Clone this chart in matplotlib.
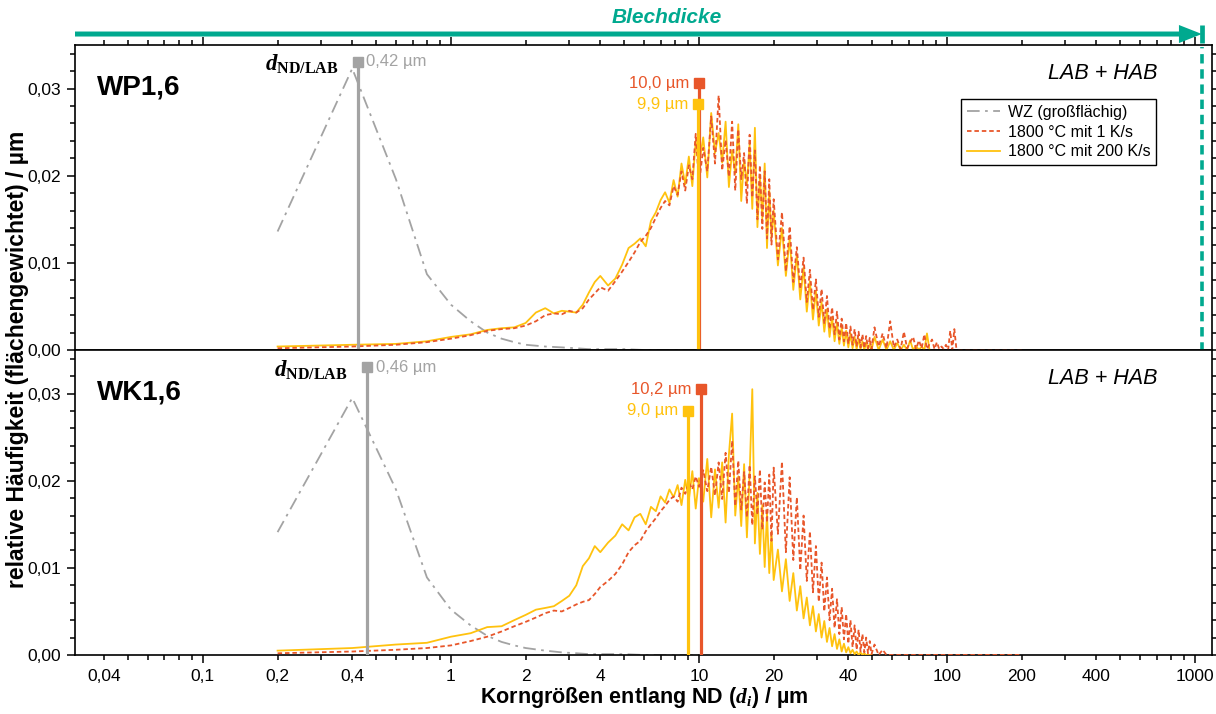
import numpy as np
import matplotlib
matplotlib.use("Agg")
import matplotlib.pyplot as plt
import matplotlib.transforms as mtransforms
from matplotlib.ticker import FixedLocator, FuncFormatter, MultipleLocator

plt.rcParams['font.family'] = ['Liberation Sans', 'DejaVu Sans']
plt.rcParams['mathtext.fontset'] = 'custom'
plt.rcParams['mathtext.it'] = 'Liberation Serif:italic:bold'
plt.rcParams['mathtext.bf'] = 'Liberation Serif:bold'
plt.rcParams['mathtext.rm'] = 'Liberation Serif:bold'

# ---------------------------------------------------------------- data
panel_names = ['WP1,6', 'WK1,6']
series_labels = ['WZ (großflächig)', '1800 °C mit 1 K/s', '1800 °C mit 200 K/s']
blechdicke_um = 1065

# base material (WZ), coarse bins
wz_d = [0.2, 0.4, 0.6, 0.8, 1.0, 1.2, 1.4, 1.6, 1.8, 2.0, 2.4, 2.8, 3.2, 3.6,
        4.0, 5.0, 6.0, 8.0, 10.0]
wz_wp = [0.0136, 0.0323, 0.0196, 0.0087, 0.0052, 0.0033, 0.0020, 0.0013,
         0.0009, 0.0006, 0.0004, 0.0003, 0.0002, 0.0001, 0.0001, 0.0001,
         0.0, 0.0, 0.0]
wz_wk = [0.0141, 0.0295, 0.0190, 0.0089, 0.0052, 0.0034, 0.0022, 0.0015,
         0.0011, 0.0008, 0.0005, 0.0003, 0.0002, 0.0001, 0.0001, 0.0001,
         0.0, 0.0, 0.0]

# heat-treated states, grain size classes in µm
d_um = [
    0.2, 0.4, 0.6, 0.8, 1.0, 1.2, 1.4, 1.6, 1.8, 2.0,
    2.2, 2.4, 2.6, 2.8, 3.0, 3.2, 3.4, 3.6, 3.8, 4.0,
    4.3, 4.6, 4.9, 5.2, 5.5, 5.8, 6.1, 6.4, 6.7, 7.0,
    7.3, 7.6, 7.9, 8.2, 8.5, 8.8, 9.1, 9.4, 9.7, 10.0,
    10.4, 10.8, 11.2, 11.6, 12.0, 12.4, 12.8, 13.2, 13.6, 14.0,
    14.4, 14.8, 15.2, 15.6, 16.0, 16.4, 16.8, 17.2, 17.6, 18.0,
    18.4, 18.8, 19.2, 19.6, 20.0,
    20.8, 21.6, 22.4, 23.2, 24.0, 24.8, 25.6, 26.4, 27.2, 28.0,
    28.8, 29.6, 30.4, 31.2, 32.0, 32.8, 33.6, 34.4, 35.2, 36.0,
    36.8, 37.6, 38.4, 39.2, 40.0, 40.8, 41.6, 42.4, 43.2, 44.0,
    44.8, 45.6, 46.4, 47.2, 48.0, 48.8, 49.6,
    51, 53, 55, 57, 59, 61, 63, 65, 67, 69,
    71, 73, 75, 77, 79, 81, 83, 85, 87, 89,
    91, 93, 95, 97, 99, 101, 103, 105, 107, 109, 111,
    130, 160, 200,
]
nan = np.nan

wp_1ks = [
    0.0002, 0.0004, 0.0006, 0.0009, 0.0013, 0.0017, 0.0022, 0.0024, 0.0025, 0.0028,
    0.0033, 0.0040, 0.0042, 0.0041, 0.0045, 0.0043, 0.0048, 0.0058, 0.0065, 0.0072,
    0.0068, 0.0079, 0.0090, 0.0101, 0.0112, 0.0124, 0.0131, 0.0140, 0.0152, 0.0163,
    0.0171, 0.0166, 0.0188, 0.0178, 0.0205, 0.0183, 0.0212, 0.0196, 0.0248, 0.0190,
    0.0232, 0.0205, 0.0268, 0.0214, 0.0292, 0.0206, 0.0241, 0.0199, 0.0262, 0.0183,
    0.0253, 0.0196, 0.0226, 0.0168, 0.0247, 0.0175, 0.0229, 0.0150, 0.0212, 0.0139,
    0.0205, 0.0128, 0.0196, 0.0121, 0.0173,
    0.0104, 0.0158, 0.0090, 0.0142, 0.0078, 0.0118, 0.0070, 0.0106, 0.0055, 0.0092,
    0.0046, 0.0081, 0.0038, 0.0070, 0.0030, 0.0062, 0.0024, 0.0049, 0.0018, 0.0044,
    0.0012, 0.0036, 0.0010, 0.0031, 0.0007, 0.0027, 0.0006, 0.0024, 0.0004, 0.0021,
    0.0003, 0.0018, 0.0002, 0.0016, 0.0002, 0.0014, 0.0001,
    0.0026, 0.0004, 0.0019, 0.0002, 0.0033, 0.0003, 0.0012, 0.0001, 0.0021, 0.0002,
    0.0009, 0.0015, 0.0001, 0.0011, 0.0002, 0.0018, 0.0001, 0.0007, 0.0012, 0.0001,
    0.0009, 0.0001, 0.0004, 0.0001, 0.0006, 0.0, 0.0022, 0.0, 0.0024, 0.0002, 0.0,
    0.0, 0.0, 0.0,
]
wp_200ks = [
    0.0004, 0.0006, 0.0007, 0.0010, 0.0015, 0.0018, 0.0023, 0.0025, 0.0026, 0.0031,
    0.0043, 0.0048, 0.0042, 0.0045, 0.0044, 0.0043, 0.0052, 0.0066, 0.0078, 0.0085,
    0.0074, 0.0082, 0.0098, 0.0117, 0.0122, 0.0128, 0.0119, 0.0148, 0.0158, 0.0172,
    0.0181, 0.0169, 0.0195, 0.0176, 0.0214, 0.0190, 0.0222, 0.0188, 0.0240, 0.0213,
    0.0244, 0.0198, 0.0272, 0.0226, 0.0249, 0.0215, 0.0262, 0.0187, 0.0229, 0.0202,
    0.0259, 0.0171, 0.0218, 0.0190, 0.0236, 0.0162, 0.0255, 0.0141, 0.0198, 0.0151,
    0.0214, 0.0117, 0.0183, 0.0129, 0.0160,
    0.0097, 0.0140, 0.0085, 0.0128, 0.0069, 0.0110, 0.0058, 0.0095, 0.0044, 0.0079,
    0.0035, 0.0068, 0.0028, 0.0055, 0.0021, 0.0047, 0.0015, 0.0038, 0.0010, 0.0032,
    0.0007, 0.0026, 0.0005, 0.0022, 0.0003, 0.0019, 0.0002, 0.0015, 0.0001, 0.0013,
    0.0001, 0.0010, 0.0, 0.0009, 0.0, 0.0007, 0.0,
    0.0015, 0.0, 0.0012, 0.0, 0.0010, 0.0, 0.0008, 0.0, 0.0006, 0.0,
    0.0011, 0.0, 0.0005, 0.0, 0.0004, 0.0, 0.0019, 0.0, nan, nan,
    nan, nan, nan, nan, nan, nan, nan, nan, nan, nan, nan,
    nan, nan, nan,
]
wk_1ks = [
    0.0002, 0.0004, 0.0006, 0.0008, 0.0011, 0.0016, 0.0021, 0.0027, 0.0033, 0.0038,
    0.0043, 0.0048, 0.0051, 0.0050, 0.0054, 0.0058, 0.0061, 0.0063, 0.0070, 0.0078,
    0.0085, 0.0093, 0.0104, 0.0118, 0.0126, 0.0131, 0.0142, 0.0150, 0.0157, 0.0165,
    0.0171, 0.0178, 0.0182, 0.0176, 0.0192, 0.0185, 0.0198, 0.0190, 0.0205, 0.0193,
    0.0212, 0.0188, 0.0216, 0.0183, 0.0221, 0.0179, 0.0232, 0.0186, 0.0246, 0.0171,
    0.0223, 0.0167, 0.0210, 0.0158, 0.0218, 0.0149, 0.0205, 0.0161, 0.0213, 0.0144,
    0.0198, 0.0152, 0.0207, 0.0131, 0.0215,
    0.0139, 0.0222, 0.0118, 0.0204, 0.0109, 0.0181, 0.0097, 0.0160, 0.0085, 0.0142,
    0.0072, 0.0125, 0.0061, 0.0106, 0.0050, 0.0089, 0.0040, 0.0076, 0.0031, 0.0064,
    0.0024, 0.0055, 0.0018, 0.0047, 0.0013, 0.0040, 0.0009, 0.0034, 0.0006, 0.0029,
    0.0004, 0.0024, 0.0003, 0.0020, 0.0002, 0.0016, 0.0001,
    0.0012, 0.0, 0.0006, 0.0, 0.0, 0.0, 0.0, 0.0, 0.0, 0.0,
    0.0, 0.0, 0.0, 0.0, 0.0, 0.0, 0.0, 0.0, 0.0, 0.0,
    0.0, 0.0, 0.0, 0.0, 0.0, 0.0, 0.0, 0.0, 0.0, 0.0, 0.0,
    0.0, 0.0, 0.0,
]
wk_200ks = [
    0.0005, 0.0008, 0.0012, 0.0014, 0.0021, 0.0025, 0.0032, 0.0033, 0.0040, 0.0046,
    0.0052, 0.0054, 0.0056, 0.0062, 0.0068, 0.0080, 0.0102, 0.0111, 0.0125, 0.0118,
    0.0129, 0.0137, 0.0150, 0.0143, 0.0158, 0.0162, 0.0150, 0.0170, 0.0165, 0.0182,
    0.0175, 0.0190, 0.0181, 0.0195, 0.0172, 0.0201, 0.0178, 0.0211, 0.0168, 0.0203,
    0.0176, 0.0225, 0.0158, 0.0213, 0.0169, 0.0221, 0.0152, 0.0230, 0.0277, 0.0160,
    0.0205, 0.0148, 0.0219, 0.0135, 0.0208, 0.0305, 0.0128, 0.0186, 0.0116, 0.0172,
    0.0101, 0.0163, 0.0094, 0.0141, 0.0086,
    0.0121, 0.0073, 0.0110, 0.0062, 0.0094, 0.0051, 0.0079, 0.0042, 0.0066, 0.0034,
    0.0056, 0.0027, 0.0047, 0.0020, 0.0039, 0.0015, 0.0031, 0.0010, 0.0024, 0.0007,
    0.0018, 0.0004, 0.0013, 0.0003, 0.0009, 0.0002, 0.0006, 0.0001, 0.0004, 0.0,
    0.0003, 0.0, 0.0002, 0.0, 0.0, 0.0, 0.0,
    nan, nan, nan, nan, nan, nan, nan, nan, nan, nan,
    nan, nan, nan, nan, nan, nan, nan, nan, nan, nan,
    nan, nan, nan, nan, nan, nan, nan, nan, nan, nan, nan,
    nan, nan, nan,
]

# mean grain sizes d_ND/LAB (µm) and heights of their marker lines
mean_wz = [0.42, 0.46]
mean_1ks = [10.0, 10.2]
mean_200ks = [9.9, 9.0]
mark_h_wz = [0.0331, 0.0330]
mark_h_1ks = [0.0306, 0.0305]
mark_h_200ks = [0.0282, 0.0280]

# ---------------------------------------------------------------- style
C_GRAY = '#A3A3A3'
C_RED = '#E8562A'
C_YEL = '#FFC20E'
C_TEAL = '#00A98F'


def de_num(v, digits=None):
    s = f'{v:.{digits}f}' if digits is not None else f'{v:g}'
    return s.replace('.', ',')


def minor_label(v, pos):
    if v <= 0:
        return ''
    k = v / 10 ** np.floor(np.log10(v) + 1e-9)
    k = int(round(k))
    return de_num(v) if k in (2, 4) else ''


fig = plt.figure(figsize=(12.16, 7.14), dpi=100)
L, W, H = 75 / 1216, 1137 / 1216, 305 / 714
ax1 = fig.add_axes([L, 1 - 350 / 714, W, H])
ax2 = fig.add_axes([L, 1 - 655 / 714, W, H])

x_min, x_max = 0.0305, 1170
major_x = [0.1, 1, 10, 100, 1000]
minor_x = [k * 10.0 ** e for e in range(-2, 4) for k in range(2, 10)
           if x_min < k * 10.0 ** e < x_max]

data = [
    (ax1, wz_wp, wp_1ks, wp_200ks),
    (ax2, wz_wk, wk_1ks, wk_200ks),
]

for i, (ax, wz, r1, r200) in enumerate(data):
    ax.set_xscale('log')
    ax.set_xlim(x_min, x_max)
    ax.set_ylim(0, 0.035)

    l_wz, = ax.plot(wz_d, wz, color=C_GRAY, lw=1.3, ls=(0, (7, 3, 1.5, 3)),
                    zorder=2, label=series_labels[0])
    l_200, = ax.plot(d_um, r200, color=C_YEL, lw=1.3, zorder=3,
                     label=series_labels[2])
    l_1, = ax.plot(d_um, r1, color=C_RED, lw=1.3, ls=(0, (2.5, 1.6)),
                   zorder=4, label=series_labels[1])

    # mean grain size markers
    for x, h, c, z in [(mean_wz[i], mark_h_wz[i], C_GRAY, 5),
                       (mean_1ks[i], mark_h_1ks[i], C_RED, 6),
                       (mean_200ks[i], mark_h_200ks[i], C_YEL, 7)]:
        ax.plot([x, x], [0, h], color=c, lw=2.3, zorder=z,
                solid_capstyle='butt')
        ax.plot([x], [h], 's', color=c, ms=6.5, zorder=z, clip_on=False)

    ax.annotate(de_num(mean_wz[i], 2) + ' µm', (mean_wz[i], mark_h_wz[i]),
                xytext=(6, 0), textcoords='offset points', ha='left',
                va='center', fontsize=12, color=C_GRAY)
    ax.annotate(r'$d_{\mathbf{ND/LAB}}$', (mean_wz[i], mark_h_wz[i]),
                xytext=(-14, -2), textcoords='offset points', ha='right',
                va='center', fontsize=16.5, color='black')
    ax.annotate(de_num(mean_1ks[i], 1) + ' µm', (mean_1ks[i], mark_h_1ks[i]),
                xytext=(-7, 0), textcoords='offset points', ha='right',
                va='center', fontsize=12, color=C_RED)
    ax.annotate(de_num(mean_200ks[i], 1) + ' µm',
                (mean_200ks[i], mark_h_200ks[i]),
                xytext=(-7, 0), textcoords='offset points', ha='right',
                va='center', fontsize=12, color=C_YEL)

    ax.text(0.0193, 0.862, panel_names[i], transform=ax.transAxes,
            fontsize=20, fontweight='bold', ha='left', va='center')
    ax.text(0.9525, 0.905, 'LAB + HAB', transform=ax.transAxes,
            fontsize=15.5, style='italic', ha='right', va='center')

    # axes, ticks
    ax.xaxis.set_major_locator(FixedLocator(major_x))
    ax.xaxis.set_minor_locator(FixedLocator(minor_x))
    ax.xaxis.set_major_formatter(FuncFormatter(lambda v, p: de_num(v)))
    ax.xaxis.set_minor_formatter(FuncFormatter(minor_label))
    ax.yaxis.set_major_locator(MultipleLocator(0.01))
    ax.yaxis.set_minor_locator(MultipleLocator(0.002))
    ax.yaxis.set_major_formatter(FuncFormatter(lambda v, p: de_num(v, 2)))
    ax.tick_params(which='both', direction='out', width=1.1, labelsize=12.5,
                   right=True, top=(i == 0), bottom=True,
                   labelbottom=(i == 1))
    ax.tick_params(which='major', length=6, pad=4)
    ax.tick_params(which='minor', length=3.5, pad=6.5)
    for s in ax.spines.values():
        s.set_linewidth(1.2)

    if i == 0:
        leg = ax.legend(handles=[l_wz, l_1, l_200], loc='upper right',
                        bbox_to_anchor=(0.951, 0.822), fontsize=11.5,
                        fancybox=False, edgecolor='black', framealpha=1,
                        handlelength=2.1, handletextpad=0.5,
                        borderpad=0.35, labelspacing=0.3, borderaxespad=0)
        leg.get_frame().set_linewidth(1.0)

# sheet thickness: arrow above the plot and dashed line through both panels
tr = mtransforms.blended_transform_factory(ax1.transData, ax1.transAxes)
ax1.annotate('', xy=(blechdicke_um, 1.036), xycoords=tr,
             xytext=(x_min, 1.036), textcoords=tr, annotation_clip=False,
             arrowprops=dict(arrowstyle='simple,head_length=1.65,'
                                        'head_width=1.3,tail_width=0.36',
                             color=C_TEAL, lw=0, shrinkA=0, shrinkB=0,
                             mutation_scale=10))
ax1.plot([blechdicke_um, blechdicke_um], [1.006, 1.066], transform=tr,
         color=C_TEAL, lw=3.4, clip_on=False, solid_capstyle='butt')
ax1.plot([blechdicke_um, blechdicke_um], [-1.0, 0.995], transform=tr,
         color=C_TEAL, lw=2.6, ls=(0, (2.6, 1.6)), clip_on=False, zorder=8)
ax1.text(7.4, 1.089, 'Blechdicke', transform=tr, ha='center', va='center',
         fontsize=15, fontweight='bold', style='italic', color=C_TEAL)

fig.text(18 / 1216, 0.497, 'relative Häufigkeit (flächengewichtet) / µm',
         rotation=90, ha='center', va='center', fontsize=16.5,
         fontweight='bold')
fig.text(644 / 1216, 1 - 697 / 714, r'Korngrößen entlang ND ($d_i$) / µm',
         ha='center', va='center', fontsize=15.5, fontweight='bold')

fig.savefig('out.png', dpi=100)
